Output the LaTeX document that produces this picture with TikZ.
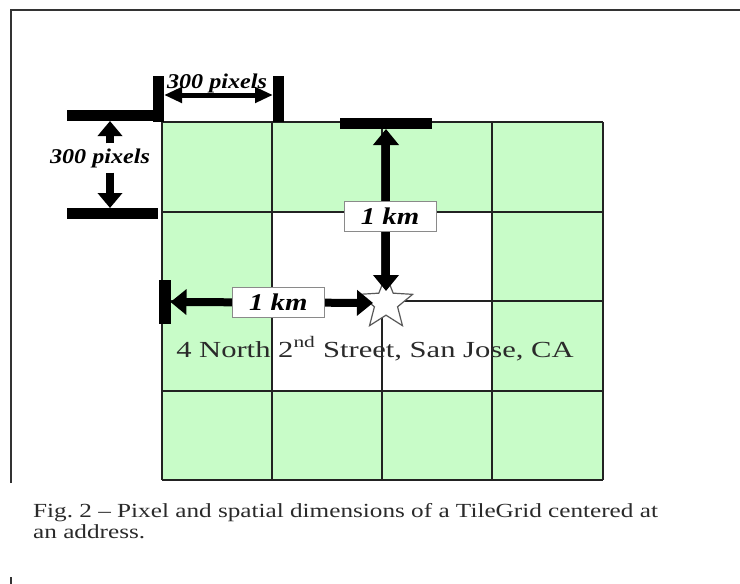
\documentclass[tikz,border=0pt]{standalone}
\usepackage{fontspec}
\setmainfont{Liberation Serif}
\newfontfamily\addrfont[Ligatures=TeX, FakeStretch=1.33]{Liberation Serif}
\newfontfamily\capfont[Ligatures=TeX, FakeStretch=1.26]{Liberation Serif}
\newfontfamily\kmfont[Ligatures=TeX, FakeStretch=1.2]{Liberation Serif}
\newfontfamily\pixfont[Ligatures=TeX, FakeStretch=1.15]{Liberation Serif}
\usetikzlibrary{arrows.meta,positioning,calc,shapes.geometric}
\definecolor{tilegreen}{HTML}{C8FCC8}
\definecolor{gridink}{HTML}{222222}
\definecolor{boxgray}{HTML}{8A8A8A}
\definecolor{textink}{HTML}{2A2A2A}

\begin{document}
\begin{tikzpicture}[
    x=1pt, y=-1pt,
    gridrule/.style={draw=gridink, line width=1.8pt},
    frame/.style={draw=black!80, line width=1.8pt},
    bar/.style={fill=black, inner sep=0pt, outer sep=0pt},
    dimlbl/.style={font=\pixfont\fontsize{21}{22}\selectfont\bfseries\itshape, inner xsep=0pt, inner ysep=5pt},
    kmlbl/.style={draw=boxgray, fill=white, line width=1pt, inner sep=0pt,
                  minimum width=92pt, minimum height=30pt,
                  font=\kmfont\fontsize{24}{24}\selectfont\bfseries\itshape},
    hdim/.style={{Triangle[length=18pt,width=15pt]}-{Triangle[length=18pt,width=15pt]}, line width=5pt},
    vdim/.style={-{Triangle[length=15pt,width=24pt]}, line width=8pt},
    kmarrow/.style={{Triangle[length=16pt,width=25pt]}-{Triangle[length=16pt,width=25pt]}, line width=8pt},
    addrtext/.style={font=\addrfont\fontsize{23}{23}\selectfont, text=textink, inner sep=0pt},
    caption/.style={font=\capfont\fontsize{20}{21}\selectfont, text=textink, align=left, inner sep=0pt},
  ]
  \useasboundingbox (0,0) rectangle (740,584);

  % --- page frame -------------------------------------------------------------
  \draw[frame] (11,483) -- (11,10) -- (740,10);
  \draw[frame] (11,577) -- (11,584);

  % --- tile grid: green ring round a white 2x2 centre -------------------------
  \fill[tilegreen] (162,122) rectangle (603,480);
  \fill[white] (272,212) rectangle (492,391);
  \foreach \gx in {162,272,382,492,603}
    \draw[gridrule] (\gx,122) -- (\gx,480);
  \foreach \gy in {122,212,301,391,480}
    \draw[gridrule] (162,\gy) -- (603,\gy);

  % --- pixel dimensions of one tile -------------------------------------------
  \node[bar, minimum width=95pt, minimum height=11pt] (pixbarH1) at (114.5,115.5) {};
  \node[bar, minimum width=91pt, minimum height=11pt] (pixbarH2) at (112.5,213.5) {};
  \node[bar, minimum width=11pt, minimum height=46pt] (pixbarV1) at (158.5,99) {};
  \node[bar, minimum width=11pt, minimum height=46pt] (pixbarV2) at (278.5,99) {};

  \node[dimlbl] (toplbl) at (217,83) {300 pixels};
  \draw[hdim] ([yshift=4pt]pixbarV1.east) -- ([yshift=4pt]pixbarV2.west);

  \coordinate (pixaxis) at (110,0);
  \node[dimlbl] (leftlbl) at (100,158) {300 pixels};
  \draw[vdim] (leftlbl.north -| pixaxis) -- (pixbarH1.south -| pixaxis);
  \draw[vdim] (leftlbl.south -| pixaxis) -- (pixbarH2.north -| pixaxis);

  % --- spatial dimensions from the address ------------------------------------
  \node[star, star points=5, star point ratio=2.3, minimum size=56pt, inner sep=0pt,
        draw=black!65, fill=white, line width=1.2pt] (addr) at (386,303) {};
  \node[bar, minimum width=92pt, minimum height=11pt] (kmbarTop) at (386,123.5) {};
  \node[bar, minimum width=12pt, minimum height=44pt] (kmbarLeft) at (164.5,302) {};

  \draw[kmarrow, shorten >=12pt] (kmbarTop.south) -- (addr.center)
    node[kmlbl, midway, xshift=4pt] (kmlblTop) {1 km};
  \draw[kmarrow, shorten >=13pt] (kmbarLeft.east) -- (addr.center)
    node[kmlbl, midway] (kmlblLeft) {1 km};

  \node[addrtext, anchor=base] (addrline) at (375,357)
    {4 North 2\textsuperscript{nd} Street, San Jose, CA};

  % --- caption ----------------------------------------------------------------
  \node[caption, anchor=north west] (figcap) at (33,503)
    {Fig.~2 -- Pixel and spatial dimensions of a TileGrid centered at\\an address.};
\end{tikzpicture}
\end{document}
